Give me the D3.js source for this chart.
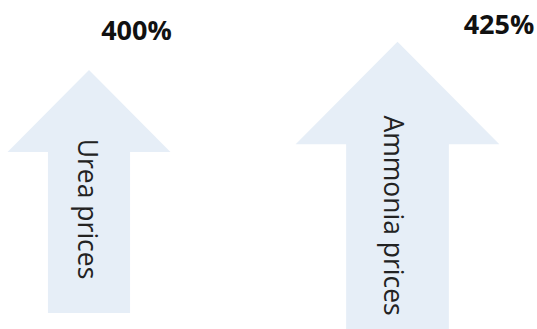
<!DOCTYPE html>
<html lang="en">
<head>
  <meta charset="UTF-8">
  <title>Urea and Ammonia price increase</title>
  <script src="https://d3js.org/d3.v7.min.js"></script>
  <style>
    body {
      margin: 0;
      background: #fff;
    }

    svg {
      display: block;
    }

    .arrow {
      fill: #e6eef7;
    }

    .value {
      font-family: "Open Sans", sans-serif;
      font-weight: 700;
      font-size: 27px;
      fill: #111;
      text-anchor: middle;
    }

    .name {
      font-family: "Open Sans", sans-serif;
      font-size: 26.5px;
      fill: #222;
      text-anchor: middle;
    }
  </style>
</head>
<body>
  <svg width="537" height="329"></svg>

  <script>
    const categories = ["Urea prices", "Ammonia prices"];
    const increases = [400, 425];
    const valueLabels = ["400%", "425%"];

    const svg = d3.select("svg");

    const data = categories.map((c, i) => ({ name: c, value: increases[i], label: valueLabels[i] }));

    // where each arrow sits and how big it is
    const x = d3.scalePoint().domain(categories).range([89, 397.5]);
    const xLabel = d3.scalePoint().domain(categories).range([136.5, 499]);
    const tip = d3.scaleLinear().domain([400, 425]).range([70, 41.7]);
    const size = d3.scaleLinear().domain([400, 425]).range([243, 304]);
    const labelY = d3.scaleLinear().domain([400, 425]).range([39.5, 34]);

    function arrowPath(d) {
      const cx = x(d.name), top = tip(d.value), h = size(d.value);
      const hh = 0.337 * h, hw = 0.335 * h, sw = 0.169 * h;
      return d3.line()([
        [cx, top],
        [cx + hw, top + hh],
        [cx + sw, top + hh],
        [cx + sw, top + h],
        [cx - sw, top + h],
        [cx - sw, top + hh],
        [cx - hw, top + hh]
      ]) + "Z";
    }

    svg.selectAll(".arrow")
      .data(data)
      .enter().append("path")
      .attr("class", "arrow")
      .attr("d", arrowPath);

    // names written down the shaft
    svg.selectAll(".name")
      .data(data)
      .enter().append("text")
      .attr("class", "name")
      .attr("transform", d => {
        const h = size(d.value);
        return `translate(${x(d.name) - 0.045 * h},${tip(d.value) + 0.572 * h}) rotate(90)`;
      })
      .text(d => d.name);

    // percentage labels
    svg.selectAll(".value")
      .data(data)
      .enter().append("text")
      .attr("class", "value")
      .attr("x", d => xLabel(d.name))
      .attr("y", d => labelY(d.value))
      .text(d => d.label);
  </script>
</body>
</html>
